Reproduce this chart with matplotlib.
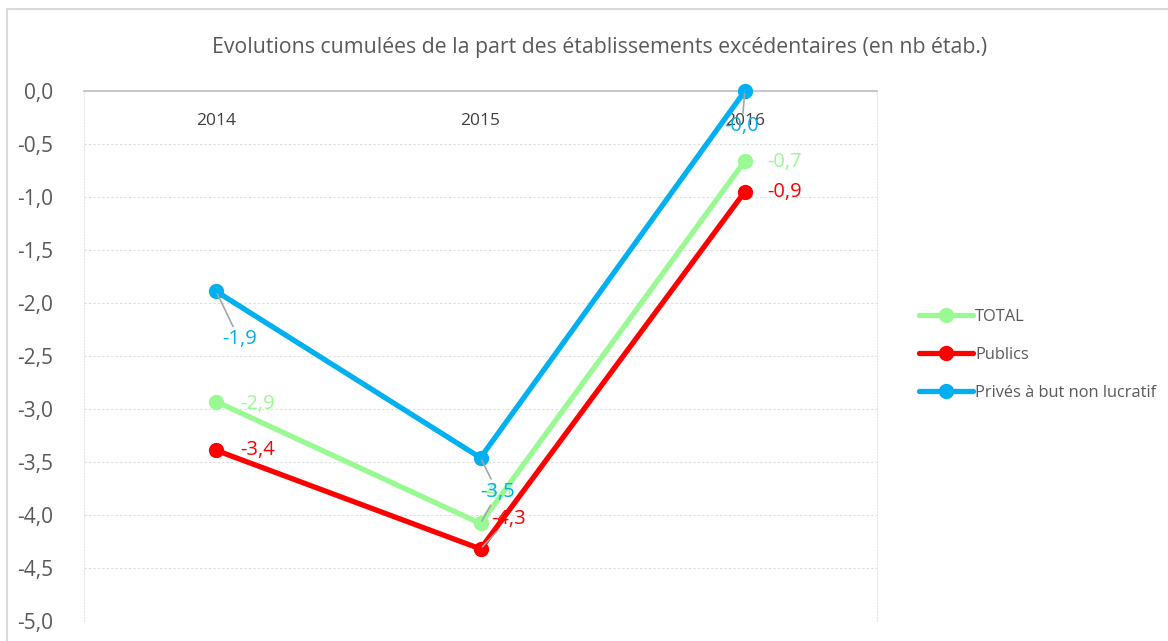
import matplotlib.pyplot as plt
from matplotlib.ticker import FuncFormatter, MultipleLocator
from matplotlib.patches import Rectangle

years = ["2014", "2015", "2016"]
total = [-2.93, -4.08, -0.66]
publics = [-3.39, -4.32, -0.95]
prives = [-1.89, -3.46, -0.001]

series = [
    ("TOTAL", total, "#99f993"),
    ("Publics", publics, "#ff0000"),
    ("Privés à but non lucratif", prives, "#00b0f0"),
]

# label offsets in pixels (dx, dy, ha, leader)
label_pos = {
    "TOTAL": [(24, -2, "left", False), (17, 31, "center", True), (22, -1, "left", False)],
    "Publics": [(24, 0, "left", False), (28, 30, "center", True), (22, 0, "left", False)],
    "Privés à but non lucratif": [(23, -48, "center", True), (17, -34, "center", True),
                                   (-3, -35, "center", True)],
}

plt.rcParams['font.family'] = ['Open Sans', 'DejaVu Sans']

fig = plt.figure(figsize=(11.68, 6.41), dpi=100)
fig.patches.append(Rectangle((7 / 1168, -0.1), 1.2, 1 - 9 / 641 + 0.1, transform=fig.transFigure,
                             fill=False, edgecolor="#d9d9d9", linewidth=1.5))
ax = fig.add_axes([84 / 1168, 20 / 641, 793 / 1168, 530 / 641])

fmt = lambda v: f"{v:.1f}".replace(".", ",")
x = list(range(len(years)))

for name, vals, col in series:
    ax.plot(x, vals, color=col, lw=3.8, marker="o", ms=10, label=name,
            clip_on=False, zorder=3, solid_capstyle="round")

for name, vals, col in series:
    for i, v in enumerate(vals):
        dx, dy, ha, leader = label_pos[name][i]
        ap = dict(arrowstyle="-", color="#a6a6a6", lw=1.2, shrinkA=0, shrinkB=2) if leader else None
        ax.annotate(fmt(v), (i, v), xytext=(dx, dy), textcoords="offset pixels",
                    ha=ha, va="center", color=col, fontsize=14.5, arrowprops=ap,
                    zorder=4, annotation_clip=False)

ax.set_xlim(-0.5, 2.5)
ax.set_ylim(-5, 0)
ax.yaxis.set_major_locator(MultipleLocator(0.5))
ax.yaxis.set_major_formatter(FuncFormatter(lambda v, p: fmt(v)))
ax.set_xticks(x)
ax.set_xticklabels(years)
ax.spines["bottom"].set_position(("data", 0))
ax.spines["bottom"].set_color("#bfbfbf")
ax.spines["bottom"].set_linewidth(1.2)
ax.spines["top"].set_visible(False)
for s in ["left", "right"]:
    ax.spines[s].set_color("#e6e6e6")
    ax.spines[s].set_linestyle(":")
ax.tick_params(axis="x", length=0, pad=16, labelsize=12.5, labelcolor="#404040")
ax.tick_params(axis="y", length=0, pad=22, labelsize=15, labelcolor="#595959")
ax.grid(axis="y", color="#dedede", linestyle=(0, (2, 2)), lw=0.8)
ax.set_axisbelow(True)

fig.text(600 / 1168, 1 - 47 / 641, "Evolutions cumulées de la part des établissements excédentaires (en nb étab.)",
         ha="center", va="center", fontsize=15.3, color="#595959")

fig.legend(loc="center left", bbox_to_anchor=(912 / 1168, 1 - 355 / 641), frameon=False,
           fontsize=11.8, labelcolor="#595959", handlelength=3.3, handletextpad=0.15,
           labelspacing=1.35, borderaxespad=0)

fig.savefig("out.png", dpi=100)
